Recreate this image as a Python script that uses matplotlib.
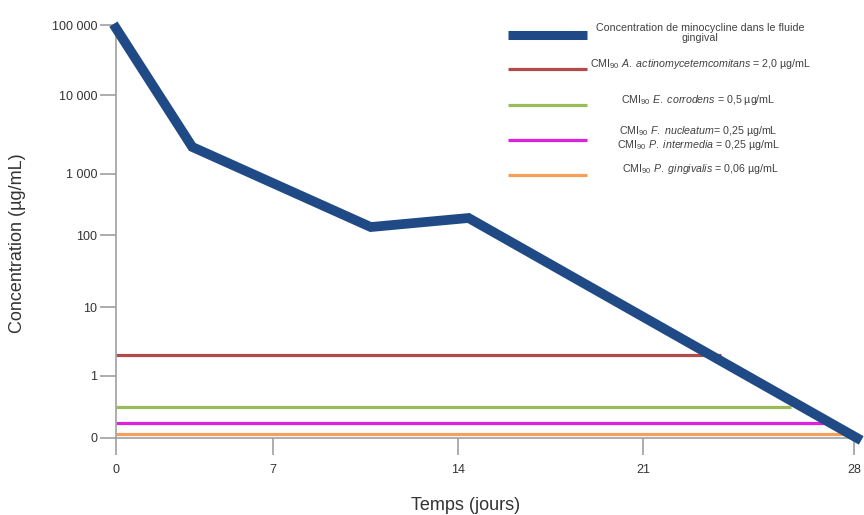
import numpy as np
import matplotlib
matplotlib.use("Agg")
from matplotlib import pyplot as plt

plt.rcParams['font.family'] = ['Liberation Sans', 'DejaVu Sans']
plt.rcParams['mathtext.fontset'] = 'custom'
plt.rcParams['mathtext.rm'] = 'Liberation Sans'
plt.rcParams['mathtext.it'] = 'Liberation Sans:italic'

# courbe de minocycline (jours, ug/mL)
jours = [0, 3.4, 10.7, 14.4, 28.1]
conc = [90000, 2200, 135, 190, 0]

# CMI90 (valeur, fin de la ligne en jours)
cmi_val = [2.0, 0.5, 0.25, 0.06]
cmi_fin = [23.6, 25.9, 27.2, 27.8]
cmi_col = ['#b24a4a', '#9bbb59', '#e020e0', '#f5a05a']

xticks = [0, 7, 14, 21, 28]
yticks = [0, 1, 10, 100, 1000, 10000, 100000]
ylabels = ['0', '1', '10', '100', '1 000', '10 000', '100 000']

legende = [
    ('Concentration de minocycline dans le fluide\ngingival', '#1f4a85'),
    (r'CMI$_{90}$ $\mathit{A.\ actinomycetemcomitans}$ = 2,0 µg/mL', cmi_col[0]),
    (r'CMI$_{90}$ $\mathit{E.\ corrodens}$ = 0,5 µg/mL', cmi_col[1]),
    (r'CMI$_{90}$ $\mathit{F.\ nucleatum}$= 0,25 µg/mL' + '\n' +
     r'CMI$_{90}$ $\mathit{P.\ intermedia}$ = 0,25 µg/mL', cmi_col[2]),
    (r'CMI$_{90}$ $\mathit{P.\ gingivalis}$ = 0,06 µg/mL', cmi_col[3]),
]

# axes "dessinées à la main" : positions non régulières
XK = [0, 7, 14, 21, 28, 35]
XP = [0, 157, 342, 527, 738, 949]
UK = [0, 1, 2, 3, 4, 5, 6]
YP = [0, 62, 131, 203, 264, 343, 413]

def xf(v):
    return np.interp(np.asarray(v, float), XK, XP)
def xi(p):
    return np.interp(np.asarray(p, float), XP, XK)
def yf(v):
    v = np.asarray(v, float)
    u = np.where(v < 1, v, 1 + np.log10(np.maximum(v, 1)))
    return np.interp(u, UK, YP)
def yi(p):
    u = np.interp(np.asarray(p, float), YP, UK)
    return np.where(u < 1, u, 10 ** (u - 1))

W, H = 864, 515
fig = plt.figure(figsize=(W/100, H/100), dpi=100)
ax = fig.add_axes([116/W, 1-438/H, 744/W, 413/H])
ax.set_xscale('function', functions=(xf, xi))
ax.set_yscale('function', functions=(yf, yi))
ax.set_xlim(0, 28.2)
ax.set_ylim(0, 100000)

for v, f, c in zip(cmi_val, cmi_fin, cmi_col):
    ax.plot([0, f], [v, v], color=c, lw=2.3, solid_capstyle='butt', zorder=2)
ax.plot(jours, conc, color='#1f4a85', lw=7, solid_joinstyle='miter',
        clip_on=False, zorder=3)

gris = '#a0a0a0'
for s in ['top', 'right']:
    ax.spines[s].set_visible(False)
for s in ['left', 'bottom']:
    ax.spines[s].set_color(gris)
    ax.spines[s].set_linewidth(1.2)
ax.set_xticks(xticks)
ax.set_xticklabels([str(t) for t in xticks])
ax.set_yticks(yticks)
ax.set_yticklabels(ylabels)
ax.minorticks_off()
ax.tick_params(axis='x', length=12, width=1.2, color=gris, pad=7,
               labelsize=9, labelcolor='#333333')
ax.tick_params(axis='y', length=11.5, width=1.2, color=gris, pad=2,
               labelsize=9, labelcolor='#333333')

fig.text(18/W, 1-243/H, 'Concentration (µg/mL)', rotation=90, ha='center',
         va='center', fontsize=13, color='#333333')
fig.text(466/W, 1-506/H, 'Temps (jours)', ha='center', va='center',
         fontsize=13, color='#333333')

# légende
ly = [35, 69, 105, 140, 175]
ty = [33, 64, 100, 138, 169]
tx = [700, None, 698, 698, 700]
for (lab, c), y, yt, x in zip(legende, ly, ty, tx):
    lw = 6.5 if c == '#1f4a85' else 2.3
    fig.add_artist(plt.Line2D([508/W, 587/W], [1-y/H, 1-y/H], color=c,
                              lw=lw, solid_capstyle='butt'))
    if x is None:
        fig.text(590/W, 1-yt/H, lab, ha='left', va='center', fontsize=7.7,
                 color='#404040')
    else:
        fig.text(x/W, 1-yt/H, lab, ha='center', va='center', fontsize=7.7,
                 color='#404040', multialignment='center', linespacing=1.0)

fig.savefig('out.png', dpi=100)
